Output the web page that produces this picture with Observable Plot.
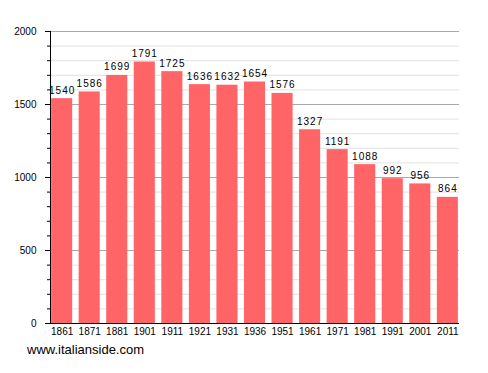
<!DOCTYPE html>
<html><head><meta charset="utf-8">
<script src="https://cdn.jsdelivr.net/npm/d3@7"></script>
<script src="https://cdn.jsdelivr.net/npm/@observablehq/plot@0.6"></script>
<style>
body{margin:0;background:#fff;font-family:"Liberation Sans",Arial,sans-serif;}
#wrap{position:relative;width:488px;height:373px;}
#cap{position:absolute;left:27px;top:342px;font-size:13px;color:#000;font-family:"Liberation Sans",Arial,sans-serif;}
.vals text{letter-spacing:1px;}
</style></head>
<body><div id="wrap"><div id="chart"></div><div id="cap">www.italianside.com</div></div>
<script>
const years = ["1861","1871","1881","1901","1911","1921","1931","1936","1951","1961","1971","1981","1991","2001","2011"];
const population = [1540,1586,1699,1791,1725,1636,1632,1654,1576,1327,1191,1088,992,956,864];
const majorTicks = [0,500,1000,1500,2000];
const minorTicks = d3.range(0,2001,100);

const data = years.map((y,i)=>({year:y, pop:population[i]}));
const minorGrid = minorTicks.filter(v=>v%500!==0);
const majorGrid = majorTicks.filter(v=>v>0);

const chart = Plot.plot({
  width:488, height:340,
  marginLeft:50, marginRight:29, marginTop:31, marginBottom:17,
  style:{fontFamily:"Liberation Sans, Arial, sans-serif", fontSize:"10px", background:"#fff"},
  x:{domain:years, paddingInner:0.235, paddingOuter:0.04, round:false, label:null},
  y:{domain:[0,2000], label:null},
  marks:[
    Plot.ruleY(minorGrid,{stroke:"#e2e2e2", strokeWidth:1}),
    Plot.ruleY(majorGrid,{stroke:"#aaaaaa", strokeWidth:1}),
    Plot.barY(data,{x:"year", y:"pop", fill:"#ff6466"}),
    Plot.text(data,{x:"year", y:"pop", text:d=>String(d.pop), lineAnchor:"bottom", dy:-5, fill:"#000", fontSize:10, className:"vals"}),
    Plot.axisY(minorTicks,{tickSize:3, tickFormat:()=>"", stroke:"#000", label:null}),
    Plot.axisY(majorTicks,{tickSize:5, tickPadding:9, tickFormat:d=>String(d), fill:"#000", fontSize:10, label:null}),
    Plot.axisX({tickSize:0, tickPadding:4, fill:"#000", fontSize:10, label:null}),
    Plot.frame({anchor:"left", stroke:"#000"}),
    Plot.ruleY([0],{stroke:"#000"})
  ]
});
document.getElementById("chart").appendChild(chart);
</script></body></html>
